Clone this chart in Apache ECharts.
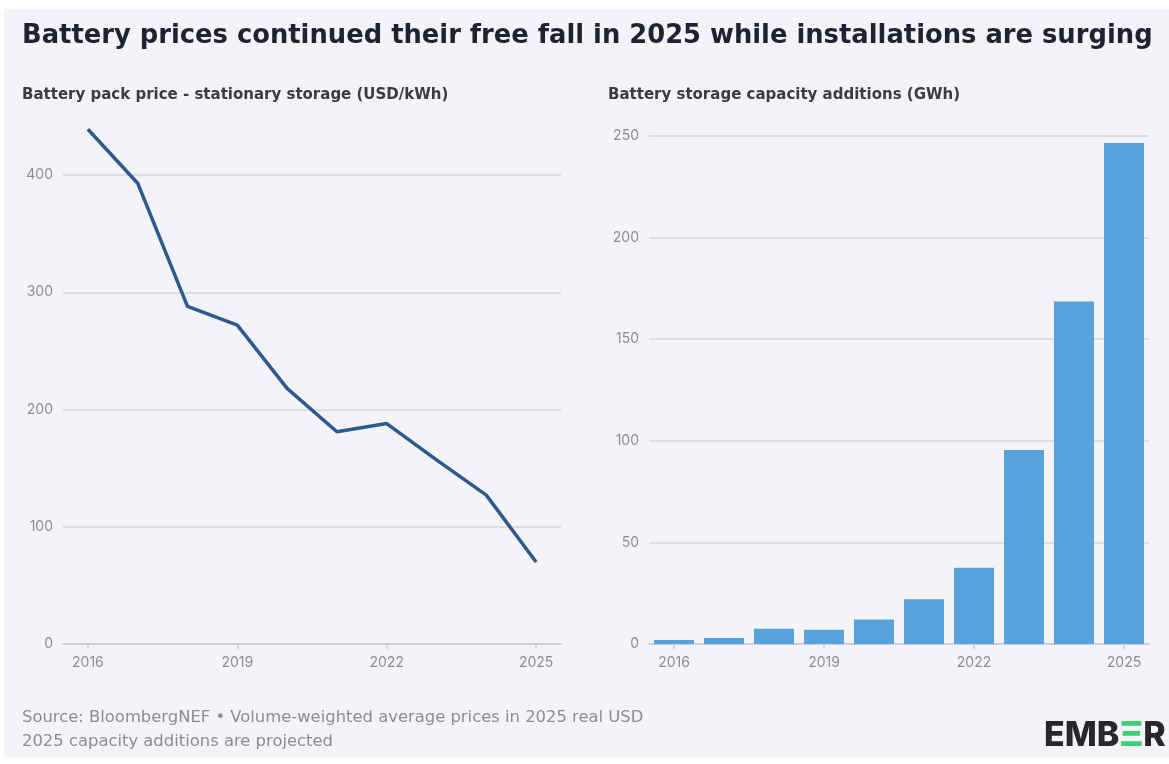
<!DOCTYPE html>
<html><head><meta charset="utf-8">
<script src="https://cdn.jsdelivr.net/npm/echarts@6/dist/echarts.min.js"></script>
<style>html,body{margin:0;padding:0;background:#fff}#c{width:1169px;height:764px}</style>
</head><body><div id="c"></div>
<script>
const years = ['2016','2017','2018','2019','2020','2021','2022','2023','2024','2025'];
const packPrice = [439, 393, 288, 272, 218, 181, 188, 157, 127, 70];
const capacityAdditions = [2, 3, 7.5, 7, 12, 22, 37.5, 95.5, 168.5, 246.5];
const priceTicks = [0, 100, 200, 300, 400];
const capTicks = [0, 50, 100, 150, 200, 250];

const FONT = 'Inter, "Noto Sans", sans-serif';
const WIDE = '"DejaVu Sans", sans-serif';
const labelColor = '#8b8e98';
const gridColor = '#d4d7df';

function xAxis(gi) {
  return {
    type: 'category', gridIndex: gi, data: years, boundaryGap: true,
    axisLine: { lineStyle: { color: '#c8cbd4', width: 1.5 } },
    axisTick: { show: true, alignWithLabel: true, interval: 2, length: 5, lineStyle: { color: '#c8cbd4', width: 1.5 } },
    axisLabel: { interval: 2, margin: 12, color: labelColor, fontSize: 14, fontFamily: FONT }
  };
}
function yAxis(gi, ticks) {
  return {
    type: 'value', gridIndex: gi, min: ticks[0], max: ticks[ticks.length - 1],
    interval: ticks[1] - ticks[0],
    axisLine: { show: false }, axisTick: { show: false },
    axisLabel: { margin: 10, color: labelColor, fontSize: 14, fontFamily: FONT },
    splitLine: { lineStyle: { color: gridColor, width: 1.5 } }
  };
}

const chart = echarts.init(document.getElementById('c'), null, { renderer: 'canvas' });
chart.setOption({
  backgroundColor: '#ffffff',
  animation: false,
  graphic: [{ type: 'rect', z: -10, shape: { x: 4, y: 9, width: 1165, height: 748 }, style: { fill: '#f4f4f8' } },
    { type: 'text', left: 1044, top: 719, style: { text: '{a|EMB}{g|Ξ}{a|R}', rich: {
      a: { fontSize: 34, fontWeight: 800, fontFamily: FONT, fill: '#25272b', color: '#25272b' },
      g: { fontSize: 34, fontWeight: 800, fontFamily: FONT, fill: '#3ecf74', color: '#3ecf74' } } } }
  ],
  title: [
    { text: 'Battery prices continued their free fall in 2025 while installations are surging', left: 22, top: 23, padding: 0,
      textStyle: { fontSize: 25.8, fontWeight: 700, color: '#1f2233', fontFamily: WIDE } },
    { text: 'Battery pack price - stationary storage (USD/kWh)', left: 22, top: 88, padding: 0,
      textStyle: { fontSize: 15, fontWeight: 700, color: '#3a3c44', fontFamily: WIDE } },
    { text: 'Battery storage capacity additions (GWh)', left: 608, top: 88, padding: 0,
      textStyle: { fontSize: 15, fontWeight: 700, color: '#3a3c44', fontFamily: WIDE } },
    { text: 'Source: BloombergNEF • Volume-weighted average prices in 2025 real USD\n2025 capacity additions are projected', left: 22, top: 706, padding: 0,
      textStyle: { fontSize: 16.4, fontWeight: 400, color: '#8b8d95', fontFamily: WIDE, lineHeight: 24 } }
  ],
  grid: [
    { left: 63, right: 608, top: 175, bottom: 120 },
    { left: 649, right: 20, top: 136, bottom: 120 }
  ],
  xAxis: [xAxis(0), xAxis(1)],
  yAxis: [yAxis(0, priceTicks), yAxis(1, capTicks)],
  series: [
    { type: 'line', xAxisIndex: 0, yAxisIndex: 0, data: packPrice, clip: false, symbol: 'none',
      lineStyle: { color: '#2c5a8e', width: 3.5 } },
    { type: 'bar', xAxisIndex: 1, yAxisIndex: 1, data: capacityAdditions, barCategoryGap: '20%',
      itemStyle: { color: '#58a2de' } }
  ]
});
</script></body></html>
